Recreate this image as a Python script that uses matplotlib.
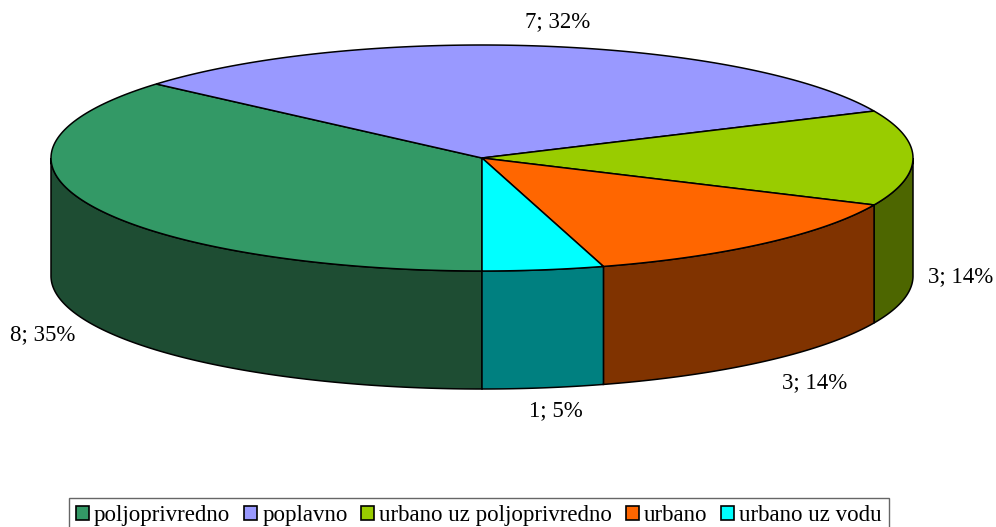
import numpy as np
import matplotlib.pyplot as plt
from matplotlib.patches import Polygon, Patch

categories = ["poljoprivredno", "poplavno", "urbano uz poljoprivredno", "urbano", "urbano uz vodu"]
counts = [8, 7, 3, 3, 1]
percent_labels = ["35%", "32%", "14%", "14%", "5%"]

top_colors = ["#339966", "#9999FF", "#99CC00", "#FF6600", "#00FFFF"]
side_colors = ["#1E4D33", "#4D4D80", "#4D6600", "#803300", "#008080"]

# pie geometry in pixel space
cx, cy = 482, 158
ra, rb = 431, 113
depth = 118
start = 270.0  # first slice starts at six o'clock, runs clockwise

# label anchors (pixel centres)
label_pos = [(43, 335), (558, 22), (961, 277), (815, 383), (556, 411)]

plt.rcParams["font.family"] = ["Liberation Serif", "DejaVu Serif"]

fig = plt.figure(figsize=(9.96, 5.27), dpi=100)
ax = fig.add_axes([0, 0, 1, 1])
ax.set_xlim(0, 996)
ax.set_ylim(527, 0)
ax.axis("off")


def rim(t0, t1, dy=0.0, n=120):
    t = np.radians(np.linspace(t0, t1, n))
    return np.column_stack([cx + ra * np.cos(t), cy - rb * np.sin(t) + dy])


total = sum(counts)
spans = [c / total * 360 for c in counts]
bounds = []
a = start
for s in spans:
    bounds.append((a, a - s))
    a -= s

# front walls: only the part of each slice that lies in the lower half
for (a0, a1), col in zip(bounds, side_colors):
    lo, hi = min(a0, a1), max(a0, a1)
    while hi <= 0:
        lo += 360
        hi += 360
    segs = []
    for shift in (0, 360, -360):
        s0, s1 = max(lo + shift, 180), min(hi + shift, 360)
        if s1 > s0:
            segs.append((s0, s1))
    for s0, s1 in segs:
        top = rim(s0, s1)
        bot = rim(s1, s0, depth)
        ax.add_patch(Polygon(np.vstack([top, bot]), closed=True,
                             facecolor=col, edgecolor="black", lw=1.1, zorder=1))

# top faces
for (a0, a1), col in zip(bounds, top_colors):
    arc = rim(a0, a1)
    pts = np.vstack([[cx, cy], arc])
    ax.add_patch(Polygon(pts, closed=True, facecolor=col,
                         edgecolor="black", lw=1.1, zorder=2))

for c, p, (x, y) in zip(counts, percent_labels, label_pos):
    ax.text(x, y, f"{c}; {p}", ha="center", va="center", fontsize=16.5)

handles = [Patch(facecolor=c, edgecolor="black", lw=1.2) for c in top_colors]
leg = ax.legend(handles, categories, ncol=5, loc="upper center",
                bbox_to_anchor=(479 / 996, 1 - 498 / 527),
                fontsize=16.5, frameon=True, fancybox=False,
                handlelength=0.57, handleheight=0.57, handletextpad=0.22,
                columnspacing=0.6, borderpad=0.3, borderaxespad=0)
leg.get_frame().set_edgecolor("#404040")
leg.get_frame().set_linewidth(1.0)

fig.savefig("out.png", dpi=100)
